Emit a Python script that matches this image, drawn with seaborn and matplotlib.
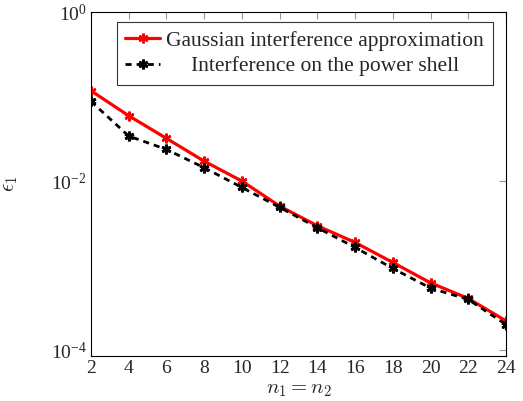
import numpy as np
import pandas as pd
import matplotlib
matplotlib.use("Agg")
import matplotlib.pyplot as plt
import seaborn as sns
from matplotlib.ticker import LogFormatterMathtext, NullLocator
from matplotlib.transforms import Affine2D

# data
n_vals = [2, 4, 6, 8, 10, 12, 14, 16, 18, 20, 22, 24]
gauss_eps = [0.117, 0.0593, 0.032, 0.0172, 0.0100, 0.00506, 0.00296, 0.00188,
             0.00109, 0.000625, 0.000409, 0.000222]
shell_eps = [0.0877, 0.0341, 0.0237, 0.0144, 0.00841, 0.00489, 0.00281, 0.00164,
             0.000927, 0.000542, 0.000398, 0.000201]
labels = ["Gaussian interference approximation", "Interference on the power shell"]

sns.set_style("white")
plt.rcParams["font.family"] = ["Liberation Serif", "DejaVu Serif"]
plt.rcParams["mathtext.fontset"] = "cm"

fig = plt.figure(figsize=(5.23, 4.01), dpi=100)
ax = fig.add_axes([0.174, 0.112, 0.7935, 0.858])

asterisk = (6, 2, 0)
sns.lineplot(x=n_vals, y=gauss_eps, ax=ax, color="#ff0000", linewidth=2.3,
             marker=asterisk, markersize=7, markeredgewidth=1.8,
             markeredgecolor="#ff0000", label=labels[0])
sns.lineplot(x=n_vals, y=shell_eps, ax=ax, color="black", linewidth=2.0,
             marker=asterisk, markersize=7, markeredgewidth=2.0,
             markeredgecolor="black", label=labels[1])
ax.lines[1].set_dashes([2.2, 1.8])

ax.set_yscale("log")
ax.set_xlim(2, 24)
ax.set_ylim(10 ** -4.07, 1)
ax.set_xticks(n_vals)
ax.set_yticks([1e-4, 1e-2, 1e0])
ax.yaxis.set_major_formatter(LogFormatterMathtext())
ax.yaxis.set_minor_locator(NullLocator())

ax.tick_params(direction="in", length=5, width=0.8, color="#999999",
               top=True, right=True, labelsize=14, pad=3)
for s in ax.spines.values():
    s.set_color("black")
    s.set_linewidth(0.8)

ax.set_xlabel(r"$n_1 = n_2$", fontsize=15, labelpad=2)
ax.set_ylabel(r"$\epsilon_1$", fontsize=15, labelpad=22)

leg = ax.legend(loc="upper right", bbox_to_anchor=(0.968, 0.97), fontsize=15.5,
                frameon=True, fancybox=False, edgecolor="black",
                handlelength=1.6, handletextpad=0.3, borderpad=0.4,
                borderaxespad=0, labelspacing=0.25)
leg.get_frame().set_linewidth(0.8)

# center the shorter legend entry under the longer one
fig.canvas.draw()
renderer = fig.canvas.get_renderer()
texts = leg.get_texts()
widths = [t.get_window_extent(renderer).width for t in texts]
wmax = max(widths)
for t, w in zip(texts, widths):
    dx = (wmax - w) / 2.0
    if dx > 0:
        t.set_transform(t.get_transform() + Affine2D().translate(dx, 0))

fig.savefig("out.png", dpi=100)
